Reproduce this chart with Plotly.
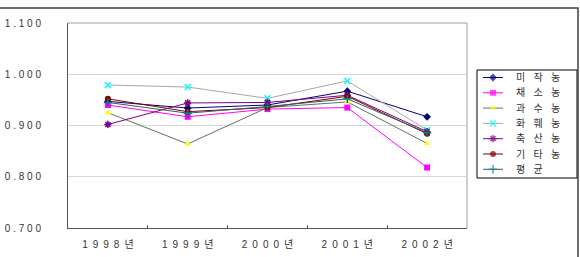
import plotly.graph_objects as go

NB = "\u00a0"
years = ["1998년", "1999년", "2000년", "2001년", "2002년"]
names = ["미작농", "채소농", "과수농", "화훼농", "축산농", "기타농", "평균"]

rice = [0.947, 0.934, 0.940, 0.967, 0.917]
vegetable = [0.940, 0.917, 0.932, 0.935, 0.818]
fruit = [0.925, 0.864, 0.935, 0.946, 0.865]
flower = [0.979, 0.975, 0.953, 0.987, 0.891]
livestock = [0.902, 0.944, 0.945, 0.959, 0.888]
other = [0.952, 0.927, 0.935, 0.957, 0.884]
average = [0.945, 0.924, 0.937, 0.952, 0.886]

yticks = [0.7, 0.8, 0.9, 1.0, 1.1]
yticktext = ["0.700", "0.800", "0.900", "1.000", "1.100"]


def spaced(s, sep):
    return sep.join(list(s))


series = [rice, vegetable, fruit, flower, livestock, other, average]
line_colors = ["#000080", "#FF00FF", "#5F735F", "#A8A8A8", "#800080", "#800000", "#2F5F5F"]
marker_colors = ["#000080", "#FF00FF", "#FFFF00", "#00FFFF", "#800080", "#800000", "#008080"]
symbols = ["diamond", "square", "triangle-up", "x-thin-open", "asterisk-open", "circle", "cross-thin-open"]

FONT = "Liberation Sans, Arial, Noto Sans CJK KR"
W, H = 580, 257
L, R, T, B = 68, 467, 23, 228

fig = go.Figure()
for nm, vals, lc, mc, sym in zip(names, series, line_colors, marker_colors, symbols):
    open_sym = sym.endswith("open")
    fig.add_trace(go.Scatter(
        x=[spaced(y, "\u2002") for y in years], y=vals, name=nm, mode="lines+markers",
        showlegend=False,
        line=dict(color=lc, width=1),
        marker=dict(symbol=sym, size=6, color=mc,
                    line=dict(color=mc, width=1.5 if open_sym else 0)),
    ))

# custom legend drawn on a full-page pixel axis pair
LEG_X0, LEG_X1, LEG_Y0, LEG_Y1 = 477, 577, 70, 178
row0, pitch = 77.5, 15.3
annotations = []
for i, (nm, lc, mc, sym) in enumerate(zip(names, line_colors, marker_colors, symbols)):
    yy = row0 + i * pitch
    open_sym = sym.endswith("open")
    fig.add_trace(go.Scatter(
        x=[483, 493, 503], y=[yy, yy, yy], mode="lines+markers",
        xaxis="x2", yaxis="y2", showlegend=False, hoverinfo="skip",
        line=dict(color=lc, width=1),
        marker=dict(symbol=sym, size=[0, 6, 0], color=mc,
                    line=dict(color=mc, width=1.5 if open_sym else 0)),
    ))
    annotations.append(dict(
        x=514, y=yy, xref="x2", yref="y2", xanchor="left", yanchor="middle",
        text=spaced(nm, NB * 3), showarrow=False,
        font=dict(family=FONT, size=10, color="#333333"),
    ))

fig.update_layout(
    template="none",
    width=W, height=H,
    margin=dict(l=0, r=0, t=0, b=0, pad=0),
    paper_bgcolor="white", plot_bgcolor="rgba(0,0,0,0)",
    font=dict(family=FONT, size=10, color="#333333"),
    showlegend=False,
    xaxis=dict(
        domain=[L / W, R / W], automargin=False, anchor="y",
        showgrid=False, showline=True, linecolor="#555555", linewidth=1,
        ticks="inside", ticklen=3, tickcolor="#555555",
        tickson="boundaries", tickfont=dict(size=10, color="#333333"),
        ticklabelstandoff=7, zeroline=False,
        range=[-0.5, 4.5], fixedrange=True,
    ),
    yaxis=dict(
        domain=[(H - B) / H, (H - T) / H], automargin=False, anchor="x",
        range=[0.7, 1.1], tickvals=yticks,
        ticktext=[spaced(t, NB) for t in yticktext],
        showgrid=True, gridcolor="#D8D8D8", gridwidth=1,
        showline=True, linecolor="#555555", linewidth=1,
        ticks="", zeroline=False, ticklabelstandoff=24,
        tickfont=dict(size=10, color="#333333"),
    ),
    xaxis2=dict(domain=[0, 1], range=[0, W], visible=False, fixedrange=True,
                anchor="y2", automargin=False),
    yaxis2=dict(domain=[0, 1], range=[H, 0], visible=False, fixedrange=True,
                anchor="x2", automargin=False),
    annotations=annotations,
    shapes=[
        dict(type="line", xref="paper", yref="paper", x0=L / W, x1=R / W,
             y0=(H - T) / H, y1=(H - T) / H,
             line=dict(color="#A0A0A0", width=1), layer="below"),
        dict(type="line", xref="paper", yref="paper", x0=R / W, x1=R / W,
             y0=(H - B) / H, y1=(H - T) / H,
             line=dict(color="#A0A0A0", width=1), layer="below"),
        dict(type="rect", xref="paper", yref="paper",
             x0=LEG_X0 / W, x1=LEG_X1 / W, y0=(H - LEG_Y1) / H, y1=(H - LEG_Y0) / H,
             line=dict(color="#000000", width=1), fillcolor="rgba(0,0,0,0)"),
        dict(type="rect", xref="paper", yref="paper",
             x0=-2 / W, x1=578 / W, y0=-20 / H, y1=(H - 8) / H,
             line=dict(color="#404040", width=1.5), fillcolor="rgba(0,0,0,0)"),
    ],
)

fig.write_html("out.html")
